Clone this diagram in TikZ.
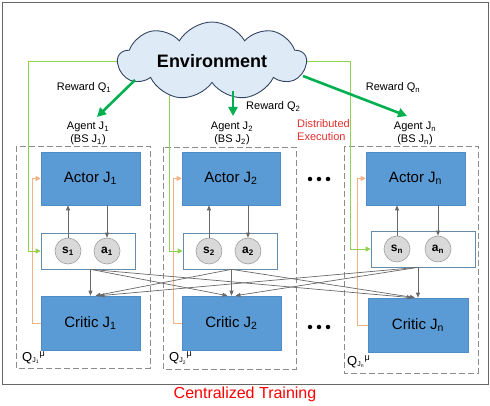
\documentclass[tikz,border=0pt]{standalone}
\usepackage{fontspec}
\setmainfont{Liberation Sans}
\usetikzlibrary{shapes.symbols,arrows.meta,calc}
\definecolor{actorblue}{RGB}{91,155,213}
\definecolor{actoredge}{RGB}{80,140,200}
\definecolor{boxedge}{RGB}{100,140,170}
\definecolor{cloudfill}{RGB}{222,235,247}
\definecolor{cloudedge}{RGB}{50,70,100}
\definecolor{rewgreen}{RGB}{0,176,80}
\definecolor{lightgreen}{RGB}{146,208,80}
\definecolor{lightorange}{RGB}{244,177,131}
\definecolor{arrgray}{RGB}{105,105,105}
\definecolor{dashgray}{RGB}{140,140,140}
\definecolor{circfill}{RGB}{217,217,217}
\definecolor{circedge}{RGB}{160,160,160}
\definecolor{execred}{RGB}{225,45,45}
\newcommand{\Qlab}[1]{Q\textsubscript{\scriptsize J\textsubscript{\tiny #1}}\textsuperscript{μ}}
\begin{document}
\begin{tikzpicture}[x=1pt,y=-1pt,
  actorbox/.style={draw=actoredge,line width=0.6pt,fill=actorblue,minimum height=53pt,inner sep=0pt,font=\fontsize{15}{17}\selectfont},
  sabox/.style={draw=boxedge,line width=0.7pt,fill=white,minimum height=36pt,inner sep=0pt},
  sacirc/.style={circle,draw=circedge,line width=0.6pt,fill=circfill,minimum size=26pt,inner sep=0pt,font=\fontsize{12}{14}\selectfont\bfseries},
  agentbox/.style={draw=dashgray,line width=0.8pt,dash pattern=on 6pt off 3pt},
  smalllab/.style={font=\fontsize{11}{13}\selectfont,inner sep=0pt,align=center},
  rewarrow/.style={draw=rewgreen,line width=2.6pt,-{Triangle[length=9pt,width=9pt]}},
  greenline/.style={draw=lightgreen,line width=0.8pt,-{Triangle[length=5pt,width=5pt]}},
  orangeline/.style={draw=lightorange,line width=0.8pt,-{Triangle[length=5pt,width=5pt]}},
  grayarrow/.style={draw=arrgray,line width=0.7pt,-{Triangle[length=5pt,width=4pt]}},
  dotmark/.style={circle,fill=black,minimum size=4.5pt,inner sep=0pt},
  qlabel/.style={anchor=west,inner sep=0pt,font=\fontsize{13}{15}\selectfont}
]
\useasboundingbox (0,0) rectangle (490,406);
\draw[draw=gray!80!black,line width=0.9pt] (2,2) rectangle (488,384);

% agent dashed boxes
\draw[agentbox] (16,146) rectangle (150,368);
\draw[agentbox] (163,147) rectangle (296,369);
\draw[agentbox] (344,146) rectangle (478,373);

% actors, state/action boxes, critics
\node[actorbox,minimum width=99pt] (actor1) at (90.5,178.5) {Actor J\textsubscript{1}};
\node[actorbox,minimum width=98pt] (actor2) at (231,178.5) {Actor J\textsubscript{2}};
\node[actorbox,minimum width=99pt] (actorn) at (415.5,178.5) {Actor J\textsubscript{n}};

\node[sabox,minimum width=94pt] (sbox1) at (88,251) {};
\node[sabox,minimum width=94pt] (sbox2) at (230,251) {};
\node[sabox,minimum width=104pt] (sboxn) at (423,249) {};

\node[sacirc] (s1) at (68,251) {s\textsubscript{1}};
\node[sacirc] (a1) at (107,251) {a\textsubscript{1}};
\node[sacirc] (s2) at (209,251) {s\textsubscript{2}};
\node[sacirc] (a2) at (248,251) {a\textsubscript{2}};
\node[sacirc] (sn) at (397,249) {s\textsubscript{n}};
\node[sacirc] (an) at (438,249) {a\textsubscript{n}};

\node[actorbox,minimum width=99pt,minimum height=54pt] (crit1) at (90.5,323) {Critic J\textsubscript{1}};
\node[actorbox,minimum width=99pt,minimum height=54pt] (crit2) at (231.5,323) {Critic J\textsubscript{2}};
\node[actorbox,minimum width=100pt,minimum height=54pt] (critn) at (418,325) {Critic J\textsubscript{n}};

% actor <-> state/action
\draw[grayarrow] (s1) -- (s1 |- actor1.south);
\draw[grayarrow] (a1 |- actor1.south) -- (a1);
\draw[grayarrow] (s2) -- (s2 |- actor2.south);
\draw[grayarrow] (a2 |- actor2.south) -- (a2);
\draw[grayarrow] (sn) -- (sn |- actorn.south);
\draw[grayarrow] (an |- actorn.south) -- (an);

% critic -> actor (orange)
\draw[orangeline] (crit1.west) -- ++(-8,0) |- (actor1.west);
\draw[orangeline] (crit2.west) -- ++(-8,0) |- (actor2.west);
\draw[orangeline] (critn.west) -- ++(-10,0) |- (actorn.west);

% cross arrows state/action -> critics
\coordinate (o1) at (sbox1.south -| crit1.north);
\coordinate (o2) at (sbox2.south -| crit2.north);
\coordinate (on) at (sboxn.south -| critn.north);
\draw[grayarrow] (o1) -- (crit1.north);
\draw[grayarrow] (o1) -- ($(crit2.north)+(-4,0)$);
\draw[grayarrow] (o1) -- ($(critn.north)+(-6,0)$);
\draw[grayarrow] (o2) -- ($(crit1.north)+(5,0)$);
\draw[grayarrow] (o2) -- (crit2.north);
\draw[grayarrow] (o2) -- ($(critn.north)+(-3,0)$);
\draw[grayarrow] (on) -- ($(crit1.north)+(9,0)$);
\draw[grayarrow] (on) -- ($(crit2.north)+(4,0)$);
\draw[grayarrow] (on) -- (critn.north);

% dots
\foreach \xx in {310,319,328} {
  \node[dotmark] at (\xx,179) {};
  \node[dotmark] at (\xx,327) {};
}

% environment feedback (green thin lines), drawn before the cloud
\coordinate (envc) at (212,61);
\coordinate (g2) at (169,70);
\draw[greenline] (envc) -| ($(sbox1.west)+(-12,0)$) -- (sbox1.west);
\draw[greenline] (g2) |- (sbox2.west);
\draw[greenline] (envc) -| ($(sboxn.west)+(-20,0)$) -- (sboxn.west);

% cloud
\node[cloud,cloud puffs=9,cloud puff arc=120,cloud ignores aspect,draw=cloudedge,line width=0.9pt,fill=cloudfill,
      minimum width=188pt,minimum height=78pt,inner sep=0pt,font=\fontsize{18}{20}\selectfont\bfseries] (env) at (212,61) {Environment};

% reward arrows
\coordinate (r1s) at (135,80);
\coordinate (r1e) at (97,117);
\coordinate (r2s) at (233,91);
\coordinate (r2e) at (233,116);
\coordinate (rns) at (303,76);
\coordinate (rne) at (407,116);
\draw[rewarrow] (r1s) -- (r1e);
\draw[rewarrow] (r2s) -- (r2e);
\draw[rewarrow] (rns) -- (rne);

% labels
\node[smalllab] (rew1) at (84,88) {Reward Q\textsubscript{1}};
\node[smalllab,anchor=west] (rew2) at (246,107) {Reward Q\textsubscript{2}};
\node[smalllab] (rewn) at (393,88) {Reward Q\textsubscript{n}};
\node[smalllab] (ag1) at (88,133.5) {Agent J\textsubscript{1}\\(BS J\textsubscript{1})};
\node[smalllab] (ag2) at (232,133.5) {Agent J\textsubscript{2}\\(BS J\textsubscript{2})};
\node[smalllab] (agn) at (415,133.5) {Agent J\textsubscript{n}\\(BS J\textsubscript{n})};
\node[smalllab,anchor=west,align=left,text=execred] (dexec) at (297,130.5) {Distributed\\Execution};

\node[qlabel] (q1) at (22,358) {\Qlab{1}};
\node[qlabel] (q2) at (169,358) {\Qlab{2}};
\node[qlabel] (qn) at (347,362) {\Qlab{n}};

\node[inner sep=0pt,text=red,font=\fontsize{16}{18}\selectfont] (ctrain) at (245,394) {Centralized Training};
\end{tikzpicture}
\end{document}
